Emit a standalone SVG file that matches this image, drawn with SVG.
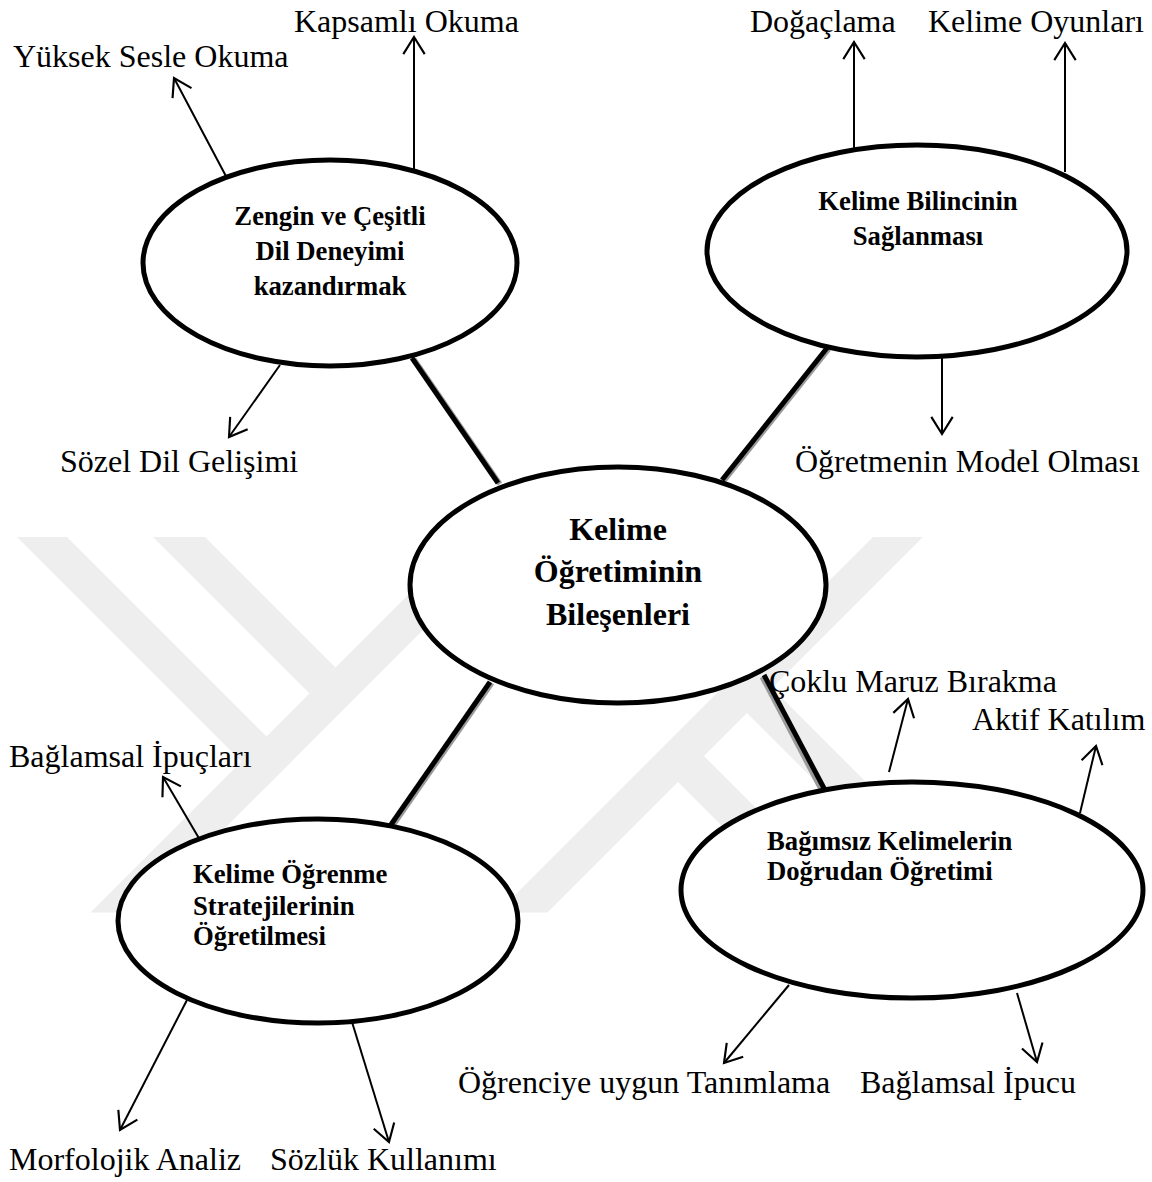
<svg xmlns="http://www.w3.org/2000/svg" width="1152" height="1182" viewBox="0 0 1152 1182">
<style>
.lbl{font-family:"Liberation Serif","Times New Roman",serif;font-size:32px;fill:#000}
.nt{font-family:"Liberation Serif","Times New Roman",serif;font-size:26.7px;font-weight:bold;fill:#000}
.ct{font-family:"Liberation Serif","Times New Roman",serif;font-size:32px;font-weight:bold;fill:#000}
.ell{fill:#fff;stroke:#000;stroke-width:5}
.arr{stroke:#000;stroke-width:2;fill:none;marker-end:url(#ah)}
.thick{stroke:#000;stroke-width:5;stroke-linecap:butt}
.shadow{stroke:#9a9a9a;stroke-width:5}
.wm{fill:#eeeeee;stroke:none}
</style>
<defs>
<marker id="ah" markerUnits="userSpaceOnUse" markerWidth="30" markerHeight="30" viewBox="-20 -14 24 28" refX="0" refY="0" orient="auto">
<path d="M-16,-10 L0,0 L-16,10" fill="none" stroke="#000" stroke-width="2"/>
</marker>
</defs>
<rect width="1152" height="1182" fill="#fff"/>

<g id="watermark">
<polygon class="wm" points="17,537 67,537 291.5,761.5 266.5,786.5"/>
<polygon class="wm" points="153,537 205,537 335.5,667.5 309.5,693.5"/>
<polygon class="wm" points="90.5,912.5 140.5,912.5 516,537 466,537"/>
<polygon class="wm" points="873,537 923,537 547.5,912.5 497.5,912.5"/>
<polygon class="wm" points="747,663 996.5,912.5 946.5,912.5 747,713"/>
<polygon class="wm" points="704,756 860.5,912.5 808.5,912.5 678,782"/>
</g>

<g id="labels">
<g id="lbl-yuksek"><text class="lbl" x="13" y="67">Yüksek Sesle Okuma</text></g>
<g id="lbl-kapsamli"><text class="lbl" x="294" y="32">Kapsamlı Okuma</text></g>
<g id="lbl-sozel"><text class="lbl" x="60" y="472">Sözel Dil Gelişimi</text></g>
<g id="lbl-dogaclama"><text class="lbl" x="750" y="32">Doğaçlama</text></g>
<g id="lbl-oyunlar"><text class="lbl" x="928" y="32">Kelime Oyunları</text></g>
<g id="lbl-model"><text class="lbl" x="795" y="472">Öğretmenin Model Olması</text></g>
<g id="lbl-ipuclari"><text class="lbl" x="9" y="767">Bağlamsal İpuçları</text></g>
<g id="lbl-morfoloji"><text class="lbl" x="9" y="1170">Morfolojik Analiz</text></g>
<g id="lbl-sozluk"><text class="lbl" x="270" y="1170">Sözlük Kullanımı</text></g>
<g id="lbl-coklu"><text class="lbl" x="769" y="692">Çoklu Maruz Bırakma</text></g>
<g id="lbl-aktif"><text class="lbl" x="972" y="730">Aktif Katılım</text></g>
<g id="lbl-tanimlama"><text class="lbl" x="458" y="1093">Öğrenciye uygun Tanımlama</text></g>
<g id="lbl-ipucu"><text class="lbl" x="860" y="1093">Bağlamsal İpucu</text></g>
</g>

<g id="connectors">
<line class="shadow" x1="414" y1="359" x2="500" y2="484"/>
<line class="thick" x1="412" y1="358" x2="498" y2="483"/>
<line class="shadow" x1="829" y1="349" x2="724" y2="481"/>
<line class="thick" x1="827" y1="348" x2="722" y2="480"/>
<line class="shadow" x1="392" y1="827" x2="492" y2="683"/>
<line class="thick" x1="390" y1="826" x2="490" y2="682"/>
<line class="shadow" x1="824" y1="795" x2="762" y2="677"/>
<line class="thick" x1="826" y1="792" x2="764" y2="675"/>

<line class="arr" x1="228" y1="180" x2="174" y2="78"/>
<line class="arr" x1="414" y1="182" x2="414" y2="37"/>
<line class="arr" x1="280" y1="365" x2="229" y2="437"/>
<line class="arr" x1="854" y1="148" x2="854" y2="42"/>
<line class="arr" x1="1065" y1="172" x2="1065" y2="43"/>
<line class="arr" x1="942" y1="356" x2="942" y2="434"/>
<line class="arr" x1="200" y1="840" x2="163" y2="777"/>
<line class="arr" x1="187" y1="1000" x2="120" y2="1130"/>
<line class="arr" x1="352" y1="1022" x2="389" y2="1142"/>
<line class="arr" x1="889" y1="772" x2="908" y2="699"/>
<line class="arr" x1="1080" y1="813" x2="1096" y2="746"/>
<line class="arr" x1="789" y1="985" x2="724" y2="1063"/>
<line class="arr" x1="1017" y1="993" x2="1037" y2="1062"/>
</g>

<g id="node-center">
<ellipse class="ell" cx="618" cy="585" rx="208" ry="118"/>
<text class="ct" x="618" y="540" text-anchor="middle">Kelime</text>
<text class="ct" x="618" y="582" text-anchor="middle">Öğretiminin</text>
<text class="ct" x="618" y="625" text-anchor="middle">Bileşenleri</text>
</g>
<g id="node-dil-deneyimi">
<ellipse class="ell" cx="330" cy="263" rx="187" ry="103"/>
<text class="nt" x="330" y="225" text-anchor="middle">Zengin ve Çeşitli</text>
<text class="nt" x="330" y="260" text-anchor="middle">Dil Deneyimi</text>
<text class="nt" x="330" y="295" text-anchor="middle">kazandırmak</text>
</g>
<g id="node-bilinc">
<ellipse class="ell" cx="917" cy="251" rx="210" ry="106"/>
<text class="nt" x="918" y="210" text-anchor="middle">Kelime Bilincinin</text>
<text class="nt" x="918" y="245" text-anchor="middle">Sağlanması</text>
</g>
<g id="node-stratejiler">
<ellipse class="ell" cx="318" cy="921" rx="200" ry="102"/>
<text class="nt" x="193" y="883">Kelime Öğrenme</text>
<text class="nt" x="193" y="915">Stratejilerinin</text>
<text class="nt" x="193" y="945">Öğretilmesi</text>
</g>
<g id="node-dogrudan">
<ellipse class="ell" cx="912" cy="890" rx="231" ry="108"/>
<text class="nt" x="767" y="850">Bağımsız Kelimelerin</text>
<text class="nt" x="767" y="880">Doğrudan Öğretimi</text>
</g>
</svg>
